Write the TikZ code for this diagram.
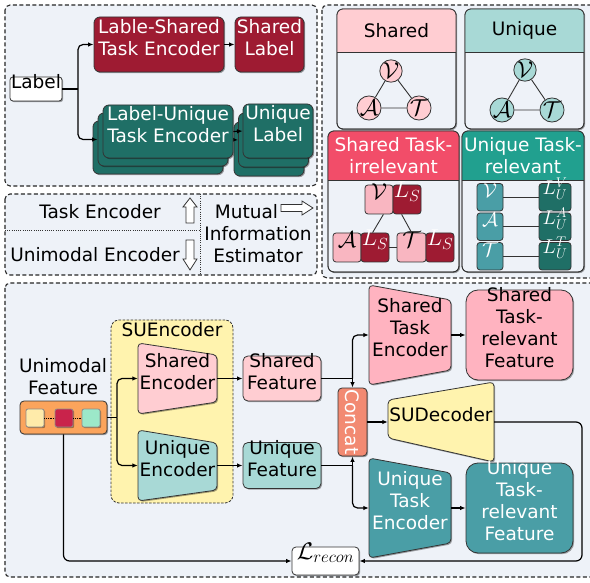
\RequirePackage{fix-cm}
\documentclass[tikz,border=0pt]{standalone}
\usepackage[no-math]{fontspec}
\setmainfont{DejaVu Sans}
\usetikzlibrary{arrows.meta,shadows,fit}
\definecolor{bgc}{HTML}{EEF2F8}
\definecolor{dred}{HTML}{9E1B32}
\definecolor{dteal}{HTML}{1F6F66}
\definecolor{pinkl}{HTML}{FFCDD2}
\definecolor{teall}{HTML}{A8D9D6}
\definecolor{crim}{HTML}{F24D69}
\definecolor{tealh}{HTML}{21A08F}
\definecolor{pinkm}{HTML}{F9B6C1}
\definecolor{tealm}{HTML}{4A9EA6}
\definecolor{pinkt}{HTML}{FFB3C0}
\definecolor{concatc}{HTML}{F28A72}
\definecolor{yel}{HTML}{FFF3AE}
\definecolor{orng}{HTML}{FBA45C}
\definecolor{sqa}{HTML}{FFEBAA}
\definecolor{sqb}{HTML}{C9234B}
\definecolor{sqc}{HTML}{9CE8C9}
\definecolor{edge}{HTML}{333333}
% trapezoid: name, xl, xr, yl-top, yl-bottom, yr-top, yr-bottom, style, text
\newcommand\trapz[9]{%
  \draw[bx,shd,#8,rounded corners=4pt] (#2,#4) -- (#3,#6) -- (#3,#7) -- (#2,#5) -- cycle;
  \node[inner sep=0pt,align=center,#8,draw=none,fill=none,fit={(#2,#4) (#2,#5) (#3,#6) (#3,#7)}] (#1) {#9};
}
\begin{document}
\begin{tikzpicture}[x=1pt,y=-1pt,font=\fontsize{18.5}{22}\selectfont,
  bx/.style={inner sep=0pt,align=center,draw=edge,line width=0.8pt},
  mbx/.style={inner sep=0pt,draw=edge,line width=0.8pt,rounded corners=3pt},
  shd/.style={drop shadow={shadow xshift=1.2pt,shadow yshift=-1.2pt,opacity=0.35,fill=black}},
  conn/.style={line width=1.2pt,draw=black},
  arr/.style={conn,-{Latex[length=5.5pt,width=4.5pt]}},
  panel/.style={draw=black!85,line width=1.1pt,dash pattern=on 4pt off 2.5pt,fill=bgc,rounded corners=5pt},
  dsep/.style={draw=black!80,line width=0.8pt,dash pattern=on 1pt off 1.2pt},
  tealbox/.style={bx,shd,fill=dteal,text=white,rounded corners=6pt},
  redbox/.style={bx,shd,fill=dred,text=white,rounded corners=6pt},
  sbx/.style={mbx,font=\fontsize{23}{23}\selectfont,text height=14pt,text depth=3pt},
  ubx/.style={mbx,font=\fontsize{20}{20}\selectfont,text height=15pt,text depth=2pt},
  circ/.style={circle,draw=edge,line width=0.8pt,inner sep=0pt,minimum size=21pt,font=\fontsize{23}{23}\selectfont},
  thinl/.style={draw=edge,line width=0.9pt},
  sq/.style={draw=black!45,line width=0.8pt,rounded corners=2pt,inner sep=0pt,shd}]
\useasboundingbox (0,0) rectangle (590,583);
\fill[white] (0,0) rectangle (590,583);

% ---------------- top-left panel ----------------
\draw[panel] (5,5) rectangle (317,186);
\node[bx,shd,fill=white,rounded corners=3pt,fit={(10,77) (62,101)}] (lab) {Label};
\node[redbox,fit={(94,17) (224,72)}] (lse) {Lable-Shared\\Task Encoder};
\node[redbox,fit={(235,17) (304,72)}] (sl) {Shared\\Label};
\draw[arr] (lse.east) -- (sl.west);
% stacked copies
\node[tealbox,fit={(93,121) (223,174)}] (lue3) {};
\node[tealbox,fit={(234,122) (304,176)}] (ul3) {};
\draw[arr] (lue3.east) -- (ul3.west);
\node[tealbox,fit={(98,113) (228,166)}] (lue2) {};
\node[tealbox,fit={(238.5,113) (308.5,167)}] (ul2) {};
\draw[arr] (lue2.east) -- (ul2.west);
\node[tealbox,fit={(103,105) (233,158)}] (lue1) {Label-Unique\\Task Encoder};
\node[tealbox,fit={(243,104) (313,158)}] (ul1) {Unique\\Label};
\draw[arr] (lue1.east) -- (ul1.west);
\coordinate (j0) at (78,89);
\draw[conn] (lab.east) -- (j0);
\draw[arr,rounded corners=5pt] (j0) |- (lse.west);
\draw[arr,rounded corners=5pt] (j0) |- (lue2.west);

% ---------------- legend ----------------
\draw[panel] (5,194) rectangle (317,275);
\draw[dsep] (200,194) -- (200,275);
\draw[dsep] (5,230) -- (200,230);
\node (tet) at (100,212) {Task Encoder};
\node (uet) at (95,255) {Unimodal Encoder};
\node[align=center,inner sep=0pt] (mie) at (258,234) {\hspace*{-23pt}Mutual\\Information\\Estimator};
\draw[bx,fill=white] (190,198) -- (197,207) -- (194,207) -- (194,223) -- (186,223) -- (186,207) -- (183,207) -- cycle;
\draw[bx,fill=white] (186,240) -- (194,240) -- (194,259) -- (197,259) -- (190,270) -- (183,259) -- (186,259) -- cycle;
\draw[bx,fill=white] (281,204.5) -- (302,204.5) -- (302,201) -- (313,208) -- (302,215) -- (302,211.5) -- (281,211.5) -- cycle;

% ---------------- top-right panel ----------------
\draw[panel] (322,5) rectangle (596,278);
% Shared
\node[bx,shd,fill=bgc,rounded corners=6pt,fit={(337,9) (456,129)}] (shb) {};
\begin{scope}\clip (337,9) rectangle (456,52);
\fill[pinkl,rounded corners=6pt] (337,9) rectangle (456,129);\end{scope}
\draw[draw=edge,line width=0.8pt,rounded corners=6pt] (337,9) rectangle (456,129);
\draw[draw=edge,line width=0.8pt] (337,52) -- (456,52);
\node (shh) at (396.5,30.5) {Shared};
\node[circ,fill=pinkl] (sv) at (391,71) {$\mathcal{V}$};
\node[circ,fill=pinkl] (sa) at (369,108) {$\mathcal{A}$};
\node[circ,fill=pinkl] (st) at (419,108) {$\mathcal{T}$};
\draw[thinl] (sv) -- (sa) -- (st) -- (sv);
% Unique
\node[bx,shd,fill=bgc,rounded corners=6pt,fit={(465,9) (584,129)}] (unb) {};
\begin{scope}\clip (465,9) rectangle (584,52);
\fill[teall,rounded corners=6pt] (465,9) rectangle (584,129);\end{scope}
\draw[draw=edge,line width=0.8pt,rounded corners=6pt] (465,9) rectangle (584,129);
\draw[draw=edge,line width=0.8pt] (465,52) -- (584,52);
\node (unh) at (524.5,30.5) {Unique};
\node[circ,fill=teall] (uv0) at (525,70) {$\mathcal{V}$};
\node[circ,fill=teall] (ua0) at (502,110) {$\mathcal{A}$};
\node[circ,fill=teall] (ut0) at (552,110) {$\mathcal{T}$};
\draw[thinl] (uv0) -- (ua0) -- (ut0) -- (uv0);
% Shared Task-irrelevant
\node[bx,shd,fill=bgc,rounded corners=6pt,fit={(328,131) (459,272)}] (sib) {};
\begin{scope}\clip (328,131) rectangle (459,180);
\fill[crim,rounded corners=6pt] (328,131) rectangle (459,272);\end{scope}
\draw[draw=edge,line width=0.8pt,rounded corners=6pt] (328,131) rectangle (459,272);
\draw[draw=edge,line width=0.8pt] (328,180) -- (459,180);
\node[align=center,text=white] (sih) at (393.5,155.5) {Shared Task-\\irrelevant};
\node[sbx,fill=pinkm,fit={(365,185) (393,214)}] (iv) {$\mathcal{V}$};
\node[sbx,fill=dred,text=white,fit={(393,185) (421,214)}] (ivl) {$L_S$};
\node[sbx,fill=pinkm,fit={(333,233) (361,262)}] (ia) {$\mathcal{A}$};
\node[sbx,fill=dred,text=white,fit={(361,233) (389,262)}] (ial) {$L_S$};
\node[sbx,fill=pinkm,fit={(397,233) (426,262)}] (it) {$\mathcal{T}$};
\node[sbx,fill=dred,text=white,fit={(426,233) (454,262)}] (itl) {$L_S$};
\draw[thinl] ([xshift=-10pt]iv.south east) -- ([xshift=12pt]ial.north west);
\draw[thinl] ([xshift=9pt]ivl.south west) -- ([xshift=15pt]it.north west);
\draw[thinl] (ial.east) -- (it.west);
% Unique Task-relevant
\node[bx,shd,fill=bgc,rounded corners=6pt,fit={(462,131) (584,272)}] (urb) {};
\begin{scope}\clip (462,131) rectangle (584,180);
\fill[tealh,rounded corners=6pt] (462,131) rectangle (584,272);\end{scope}
\draw[draw=edge,line width=0.8pt,rounded corners=6pt] (462,131) rectangle (584,272);
\draw[draw=edge,line width=0.8pt] (462,180) -- (584,180);
\node[align=center,text=white] (urh) at (523,155.5) {Unique Task-\\relevant};
\node[ubx,fill=tealm,text=white,fit={(477,183.5) (503,211)}] (rv) {$\mathcal{V}$};
\node[ubx,fill=dteal,text=white,fit={(539,183.5) (571,211)}] (rvl) {$L_U^V$};
\node[ubx,fill=tealm,text=white,fit={(477,213) (503,240.5)}] (ra) {$\mathcal{A}$};
\node[ubx,fill=dteal,text=white,fit={(539,213) (571,240.5)}] (ral) {$L_U^A$};
\node[ubx,fill=tealm,text=white,fit={(477,242.5) (503,270)}] (rt) {$\mathcal{T}$};
\node[ubx,fill=dteal,text=white,fit={(539,242.5) (571,270)}] (rtl) {$L_U^T$};
\draw[thinl] (rv.east) -- (rvl.west);
\draw[thinl] (ra.east) -- (ral.west);
\draw[thinl] (rt.east) -- (rtl.west);

% ---------------- bottom panel ----------------
\draw[panel] (5,283) rectangle (596,577);
\node[fit={(111,320) (233,503)},inner sep=0pt,draw=edge,line width=0.8pt,dash pattern=on 2.5pt off 1.5pt,fill=yel,rounded corners=8pt] (sue) {};
\node[anchor=north,inner sep=1pt] (suet) at (172,321) {SUEncoder};
\node[align=center] (uft) at (63,377) {Unimodal\\Feature};
\node[bx,shd,fill=orng,rounded corners=4pt,fit={(20,401) (107,434)}] (uf0) {};
\node[sq,fill=sqa,fit={(26,409) (44,427)}] (q1) {};
\node[sq,fill=sqb,fit={(55,409) (73,427)}] (q2) {};
\node[sq,fill=sqc,fit={(82,409) (100,427)}] (q3) {};
\draw[densely dotted,line width=0.7pt] (q1) -- (q2) -- (q3);

\trapz{senc}{138}{217}{343}{414}{355}{402}{fill=pinkl}{Shared\\Encoder}
\trapz{uenc}{138}{217}{430}{501}{443}{490}{fill=teall}{Unique\\Encoder}
\node[bx,shd,fill=pinkl,rounded corners=5pt,fit={(243,356) (321,401)}] (sf) {Shared\\Feature};
\node[bx,shd,fill=teall,rounded corners=5pt,fit={(243,442.5) (321,488.5)}] (uf) {Unique\\Feature};
\node[bx,shd,fill=concatc,rounded corners=4pt,fit={(338,388) (367,456)}] (cc) {};
\node[rotate=-90,text=white,inner sep=0pt] (cct) at (cc) {Concat};
\trapz{ste}{369}{451}{285}{385}{300}{370}{fill=pinkt}{Shared\\Task\\Encoder}
\node[bx,shd,fill=pinkt,rounded corners=12pt,fit={(466,290) (573,380)}] (strf) {Shared\\Task-\\relevant\\Feature};
\trapz{sud}{388}{494}{400}{438}{382}{462}{fill=yel}{SUDecoder}
\trapz{ute}{369}{451}{458}{558}{473}{543}{fill=tealm,text=white}{Unique\\Task\\Encoder}
\node[bx,shd,fill=tealm,text=white,rounded corners=12pt,fit={(466,463) (573,553)}] (utrf) {Unique\\Task-\\relevant\\Feature};
\node[mbx,shd,fill=white,rounded corners=4pt,font=\fontsize{24}{24}\selectfont,text height=15.8pt,text depth=3pt,fit={(292,547) (359,575)}] (lrec) {$\mathcal{L}_{recon}$};

% connectors
\coordinate (ja) at (117,417.5);
\draw[conn] (uf0.east) -- (ja);
\draw[arr,rounded corners=5pt] (ja) |- (senc.west);
\draw[arr,rounded corners=5pt] (ja) |- (uenc.west);
\draw[arr] (senc.east) -- (sf.west);
\draw[arr] (uenc.east) -- (uf.west);
\coordinate (j1) at (352.5,378.5);
\coordinate (j2) at (352.5,465.5);
\draw[conn] (sf.east) -- (j1);
\draw[arr,rounded corners=5pt] (j1) |- (ste.west);
\draw[arr] (j1) -- (cc.north);
\draw[conn] (uf.east) -- (j2);
\draw[arr] (j2) -- (cc.south);
\draw[arr,rounded corners=5pt] (j2) |- (ute.west);
\draw[arr] (ste.east) -- (strf.west);
\draw[arr] (ute.east) -- (utrf.west);
\draw[arr] (cc.east) -- (sud.west);
\coordinate (kk) at (582,561);
\draw[arr,rounded corners=6pt] (sud.east) -| (kk) -- (lrec.east);
\draw[arr,rounded corners=6pt] (uf0.south) |- (lrec.west);
\end{tikzpicture}
\end{document}
